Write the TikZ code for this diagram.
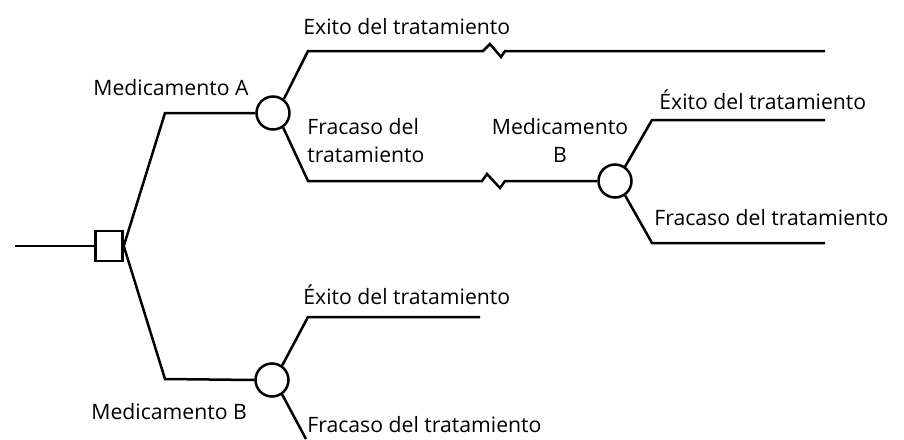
\documentclass[tikz,border=0pt]{standalone}
\usepackage{fontspec}
\setmainfont{Open Sans}
\usetikzlibrary{positioning}

\tikzset{
  branch/.style={line width=1.25pt},
  decision/.style={draw,line width=1.25pt,fill=white,minimum width=13.5pt,minimum height=15pt,inner sep=0pt},
  chance/.style={draw,line width=1.25pt,circle,fill=white,minimum size=16.5pt,inner sep=0pt},
  lbl/.style={inner sep=0pt,font=\fontsize{10.6}{14}\selectfont}
}

\begin{document}
\begin{tikzpicture}[x=0.5pt,y=-0.5pt]
\useasboundingbox (0,0) rectangle (904,439);

% decision node and chance nodes
\node[decision] (dec) at (109,246) {};
\node[chance] (cA) at (273,113) {};
\node[chance] (cB) at (272,380) {};
\node[chance] (cB2) at (615,181) {};

% elbows and free ends
\coordinate (root) at (15,246);
\coordinate (kA) at (165,113);
\coordinate (kB) at (165,379);
\coordinate (kAe) at (308,51);
\coordinate (kAf) at (308,181);
\coordinate (endAe) at (825,51);
\coordinate (kB2e) at (652,120);
\coordinate (endB2e) at (825,120);
\coordinate (kB2f) at (652,243);
\coordinate (endB2f) at (825,243);
\coordinate (kBe) at (308,317);
\coordinate (endBe) at (480,317);
\coordinate (endBf) at (306,439);

\draw[branch] (root) -- (dec.west);
\draw[branch] (dec.east) -- (kA) -- (cA.west);
\draw[branch] (dec.east) -- (kB) -- (cB.west);

% medicamento A
\draw[branch] (cA.52) -- (kAe) -- (483,51) -- ++(7,-7) -- ++(11,13) -- ++(4,-6) -- (endAe);
\draw[branch] (cA.-55) -- (kAf) -- (482,181) -- ++(5,-7) -- ++(13,14) -- ++(5,-7) -- (cB2.west);
\draw[branch] (cB2.55) -- (kB2e) -- (endB2e);
\draw[branch] (cB2.-55) -- (kB2f) -- (endB2f);

% medicamento B
\draw[branch] (cB.55) -- (kBe) -- (endBe);
\draw[branch] (cB.-55) -- (endBf);

% labels
\node[lbl,anchor=west] (tAe) at (303,27) {Exito del tratamiento};
\node[lbl,anchor=west] (tA) at (93,88) {Medicamento A};
\node[lbl,anchor=north west,align=left] (tAf) at (307,118) {Fracaso del\\tratamiento};
\node[lbl,anchor=north,align=center] (tB2) at (560,118) {Medicamento\\B};
\node[lbl,anchor=west] (tB2e) at (659,100) {Éxito del tratamiento};
\node[lbl,anchor=west] (tB2f) at (654,218) {Fracaso del tratamiento};
\node[lbl,anchor=west] (tBe) at (303,295) {Éxito del tratamiento};
\node[lbl,anchor=west] (tB) at (91,412) {Medicamento B};
\node[lbl,anchor=west] (tBf) at (307,425) {Fracaso del tratamiento};
\end{tikzpicture}
\end{document}
